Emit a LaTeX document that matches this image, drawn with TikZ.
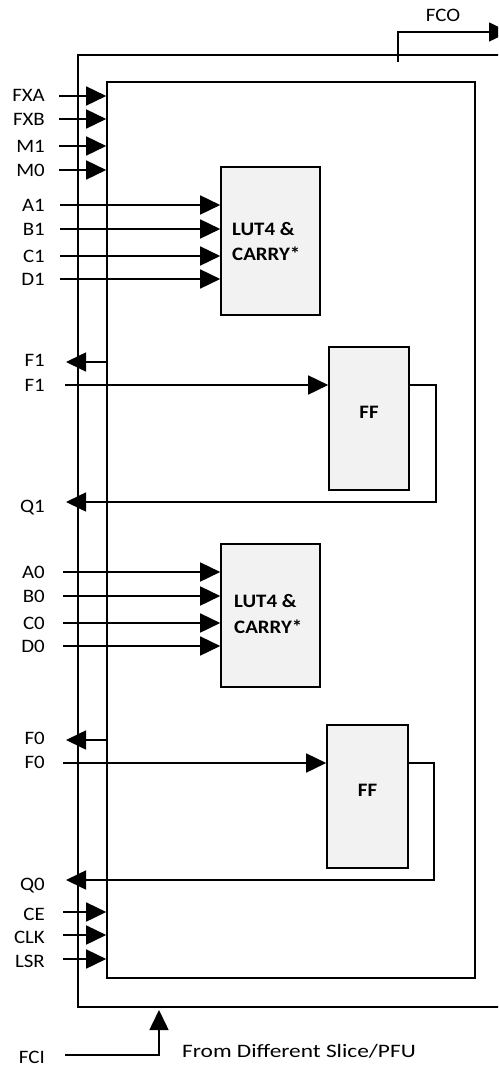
\documentclass[tikz,border=0pt]{standalone}
\usepackage{fontspec}
\setmainfont{Carlito}[FakeStretch=1.1]
\newfontfamily\widefont{Carlito}[FakeStretch=1.23]
\usetikzlibrary{arrows.meta,fit}
\definecolor{boxfill}{HTML}{F2F2F2}
\tikzset{
  wire/.style={line width=1.6pt, -{Triangle[length=20pt,width=19pt]}},
  frame/.style={draw, line width=1.6pt, inner sep=0pt},
  block/.style={draw, line width=1.6pt, fill=boxfill, inner sep=0pt, font=\fontsize{19}{22}\selectfont\bfseries},
  lbl/.style={font=\fontsize{19}{22}\selectfont, inner sep=0pt, text height=12.2pt, text depth=0pt, anchor=east},
  btxt/.style={font=\fontsize{19}{25}\selectfont\bfseries, inner sep=0pt, align=left, anchor=west},
}
\begin{document}
\begin{tikzpicture}[x=1pt,y=-1pt]
\useasboundingbox (0,0) rectangle (498,1067);
\clip (0,0) rectangle (498,1067);
% frames
\node[frame, fit={(78,55) (520,1007)}] (outer) {};
\node[frame, fit={(107,82) (475,978)}] (inner) {};
% blocks
\node[block, fit={(221,167) (320,315)}] (lut1) {};
\node[btxt] (lut1t) at (232,242) {LUT4 \&\\CARRY*};
\node[block, fit={(329,347) (409,490)}] (ff1) {FF};
\node[block, fit={(221,544) (320,687)}] (lut0) {};
\node[btxt] (lut0t) at (234,614) {LUT4 \&\\CARRY*};
\node[block, fit={(327,725) (408,868)}] (ff0) {FF};
% inputs into inner frame
\foreach \n/\t/\ty/\ly/\sx in {fxa/FXA/95/96/59, fxb/FXB/119/119/59, m1/M1/146/146/59, m0/M0/170/170/59,
    ce/CE/914/912/63, clk/CLK/937/935/63, lsr/LSR/961/959/63}{
  \node[lbl] (\n) at (45,\ty) {\t};
  \coordinate (\n-s) at (\sx,\ly);
  \draw[wire] (\n-s) -- (\n-s -| inner.west);
}
% inputs into LUTs
\foreach \n/\t/\ty/\ly/\sx in {a1/A1/205/205/60, b1/B1/229/229/60, c1/C1/256/256/60, d1/D1/279/279/60}{
  \node[lbl] (\n) at (45,\ty) {\t};
  \coordinate (\n-s) at (\sx,\ly);
  \draw[wire] (\n-s) -- (\n-s -| lut1.west);
}
\foreach \n/\t/\ty/\ly/\sx in {a0/A0/572/572/63, b0/B0/596/596/63, c0/C0/623/623/63, d0/D0/646/646/63}{
  \node[lbl] (\n) at (45,\ty) {\t};
  \coordinate (\n-s) at (\sx,\ly);
  \draw[wire] (\n-s) -- (\n-s -| lut0.west);
}
% upper FF
\node[lbl] (f1o) at (45,360) {F1};
\coordinate (f1o-e) at (66,362);
\draw[wire] (f1o-e -| inner.west) -- (f1o-e);
\node[lbl] (f1i) at (45,385) {F1};
\coordinate (f1i-s) at (65,385);
\draw[wire] (f1i-s) -- (f1i-s -| ff1.west);
\node[lbl] (q1) at (45,506) {Q1};
\coordinate (q1-e) at (66,502);
\draw[wire] (f1i-s -| ff1.east) -- (436,385) |- (q1-e);
% lower FF
\node[lbl] (f0o) at (45,738) {F0};
\coordinate (f0o-e) at (66,740);
\draw[wire] (f0o-e -| inner.west) -- (f0o-e);
\node[lbl] (f0i) at (45,762) {F0};
\coordinate (f0i-s) at (63,763);
\draw[wire] (f0i-s) -- (f0i-s -| ff0.west);
\node[lbl] (q0) at (45,884) {Q0};
\coordinate (q0-e) at (66,880);
\draw[wire] (f0i-s -| ff0.east) -- (434,763) |- (q0-e);
% carry out
\node[lbl, anchor=center] (fco) at (443,15) {FCO};
\coordinate (fco-s) at (398,62);
\coordinate (fco-e) at (509,32);
\draw[wire] (fco-s) |- (fco-e);
% carry in
\node[lbl] (fci) at (45,1057.5) {FCI};
\coordinate (fci-s) at (65,1055);
\coordinate (fci-e) at (159,1010);
\draw[wire] (fci-s) -| (fci-e);
\node[lbl, anchor=west, font=\widefont\fontsize{19}{22}\selectfont] (src) at (182,1051) {From Different Slice/PFU};
\end{tikzpicture}
\end{document}
